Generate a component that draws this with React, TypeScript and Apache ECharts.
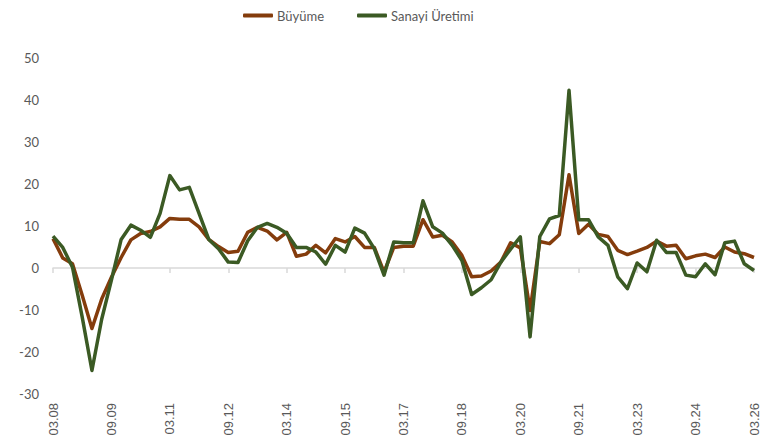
import React, { useEffect, useRef } from "react";
import * as echarts from "echarts";

const categories = [
  "03.08","06.08","09.08","12.08",
  "03.09","06.09","09.09","12.09",
  "03.10","06.10","09.10","12.10",
  "03.11","06.11","09.11","12.11",
  "03.12","06.12","09.12","12.12",
  "03.13","06.13","09.13","12.13",
  "03.14","06.14","09.14","12.14",
  "03.15","06.15","09.15","12.15",
  "03.16","06.16","09.16","12.16",
  "03.17","06.17","09.17","12.17",
  "03.18","06.18","09.18","12.18",
  "03.19","06.19","09.19","12.19",
  "03.20","06.20","09.20","12.20",
  "03.21","06.21","09.21","12.21",
  "03.22","06.22","09.22","12.22",
  "03.23","06.23","09.23","12.23",
  "03.24","06.24","09.24","12.24",
  "03.25","06.25","09.25","12.25",
  "03.26",
];

const buyume = [
  7.0, 2.4, 1.0, -6.5,
  -14.4, -7.4, -2.2, 2.5,
  6.7, 8.2, 8.7, 9.8,
  11.8, 11.6, 11.6, 9.8,
  6.8, 5.1, 3.7, 4.0,
  8.5, 9.7, 8.8, 6.7,
  8.5, 2.8, 3.3, 5.4,
  3.6, 7.0, 6.2, 7.5,
  4.9, 4.9, -1.0, 4.9,
  5.2, 5.2, 11.5, 7.4,
  7.8, 6.2, 3.0, -2.1,
  -1.9, -0.7, 1.4, 6.0,
  4.8, -10.1, 6.3, 5.8,
  7.9, 22.2, 8.2, 10.4,
  8.0, 7.5, 4.2, 3.2,
  4.0, 4.9, 6.4, 5.2,
  5.4, 2.2, 2.9, 3.3,
  2.5, 5.0, 3.8, 3.4,
  2.5,
];

const sanayi = [
  7.6, 4.9, 0.2, -11.7,
  -24.4, -12.2, -2.9, 6.8,
  10.2, 9.0, 7.3, 13.0,
  22.0, 18.6, 19.2, 13.0,
  6.8, 4.6, 1.4, 1.3,
  6.5, 9.7, 10.6, 9.7,
  8.3, 4.9, 4.9, 3.8,
  0.9, 5.4, 3.8, 9.5,
  8.3, 4.6, -1.7, 6.2,
  6.0, 6.0, 16.0, 9.8,
  8.3, 5.4, 1.8, -6.3,
  -4.7, -2.8, 1.4, 4.5,
  7.4, -16.4, 7.5, 11.7,
  12.5, 42.3, 11.5, 11.5,
  7.4, 5.4, -2.1, -4.9,
  1.2, -0.9, 6.6, 3.7,
  3.7, -1.7, -2.1, 1.0,
  -1.6, 6.0, 6.4, 1.0,
  -0.6,
];

const seriesNames = ["Büyüme", "Sanayi Üretimi"];
const seriesColors = ["#843C0C", "#3B5A24"];

const yMin = -30;
const yMax = 50;
const yInterval = 10;

const legendBase = {
  top: 9,
  padding: 0,
  icon: "roundRect",
  itemWidth: 30,
  itemHeight: 4,
  textStyle: {
    color: "#595959",
    fontSize: 13,
    fontFamily: "Lato",
    padding: [0, 0, 0, -1],
  },
};

export default function App() {
  const ref = useRef<HTMLDivElement>(null);

  useEffect(() => {
    if (!ref.current) return;
    const chart = echarts.init(ref.current, undefined, { renderer: "svg" });
    chart.setOption({
      animation: false,
      backgroundColor: "#ffffff",
      legend: [
        { ...legendBase, left: 243, data: [seriesNames[0]] },
        { ...legendBase, left: 357, data: [seriesNames[1]] },
      ],
      grid: { left: 53, right: 16, top: 58, bottom: 46, containLabel: false },
      xAxis: [
        {
          type: "category",
          data: categories,
          boundaryGap: false,
          position: "bottom",
          axisLine: { show: false, onZero: false },
          axisTick: { show: false },
          axisLabel: {
            interval: 5,
            rotate: 90,
            margin: 9,
            color: "#595959",
            fontSize: 13,
            fontFamily: "Liberation Sans",
          },
          splitLine: { show: false },
        },
        {
          type: "category",
          data: categories,
          boundaryGap: false,
          position: "bottom",
          axisLine: { show: true, onZero: true, lineStyle: { color: "#d9d9d9", width: 1.5 } },
          axisTick: { show: true, interval: 5, length: 5, inside: false, lineStyle: { color: "#d9d9d9", width: 1.5 } },
          axisLabel: { show: false },
          splitLine: { show: false },
        },
      ],
      yAxis: {
        type: "value",
        min: yMin,
        max: yMax,
        interval: yInterval,
        axisLine: { show: false },
        axisTick: { show: false },
        splitLine: { show: false },
        axisLabel: { color: "#595959", fontSize: 13, fontFamily: "Lato", margin: 14 },
      },
      series: [
        {
          name: seriesNames[0],
          type: "line",
          data: buyume,
          xAxisIndex: 0,
          showSymbol: false,
          symbol: "none",
          lineStyle: { color: seriesColors[0], width: 3.5, join: "round" },
          itemStyle: { color: seriesColors[0] },
          z: 2,
        },
        {
          name: seriesNames[1],
          type: "line",
          data: sanayi,
          xAxisIndex: 0,
          showSymbol: false,
          symbol: "none",
          lineStyle: { color: seriesColors[1], width: 3.5, join: "round" },
          itemStyle: { color: seriesColors[1] },
          z: 3,
        },
      ],
    });
    return () => chart.dispose();
  }, []);

  return <div ref={ref} style={{ width: 770, height: 440, position: "absolute", left: 0, top: 0 }} />;
}
